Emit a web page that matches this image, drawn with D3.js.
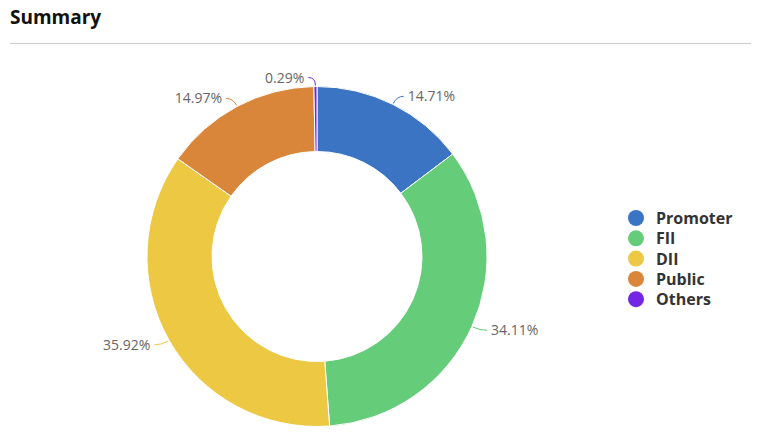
<!DOCTYPE html>
<html><head><meta charset="utf-8">
<script src="https://cdn.jsdelivr.net/npm/d3@7"></script>
<style>body{margin:0;background:#fff;font-family:"Open Sans",Lato,sans-serif}</style>
</head><body><svg id="c" width="760" height="444"></svg>
<script>
const categories = ["Promoter","FII","DII","Public","Others"];
const values = [14.71,34.11,35.92,14.97,0.29];
const colors = ["#3a74c2","#65cc7a","#ecc843","#d9863a","#7326e4"];

const svg = d3.select("#c");
svg.append("text").attr("x",10).attr("y",24).attr("font-size",19).attr("font-weight","bold")
  .attr("fill","#111").text("Summary");
svg.append("line").attr("x1",10).attr("x2",751).attr("y1",43.5).attr("y2",43.5).attr("stroke","#ccc");

const cx=317, cy=256.5, R=170, r=105;
const g = svg.append("g").attr("transform",`translate(${cx},${cy})`);
const pie = d3.pie().sort(null).value(d=>d)(values);
const arc = d3.arc().innerRadius(r).outerRadius(R);
g.selectAll("path.s").data(pie).join("path").attr("class","s")
  .attr("d",arc).attr("fill",(d,i)=>colors[i]).attr("stroke","#fff").attr("stroke-width",1);

pie.forEach((d,i)=>{
  const a=(d.startAngle+d.endAngle)/2, s=Math.sin(a), c=-Math.cos(a);
  const x1=(R+1)*s, y1=(R+1)*c, x2=(R+9)*s, y2=(R+9)*c;
  const right = s>=0;
  const x3 = x2 + (right?7:-7);
  g.append("path").attr("d",`M${x1},${y1}Q${x2},${y2} ${x3},${y2}`)
   .attr("fill","none").attr("stroke",colors[i]).attr("stroke-width",1);
  g.append("text").attr("x",x3+(right?4:-4)).attr("y",y2+5)
   .attr("text-anchor",right?"start":"end").attr("font-size",14).attr("fill","#666")
   .text(values[i].toFixed(2)+"%");
});

const lg = svg.append("g");
categories.forEach((c,i)=>{
  const y=218+i*20.3;
  lg.append("circle").attr("cx",636).attr("cy",y).attr("r",8).attr("fill",colors[i]);
  lg.append("text").attr("x",656).attr("y",y+6).attr("font-size",16).attr("font-weight","bold")
    .attr("fill","#333").text(c);
});
</script></body></html>
